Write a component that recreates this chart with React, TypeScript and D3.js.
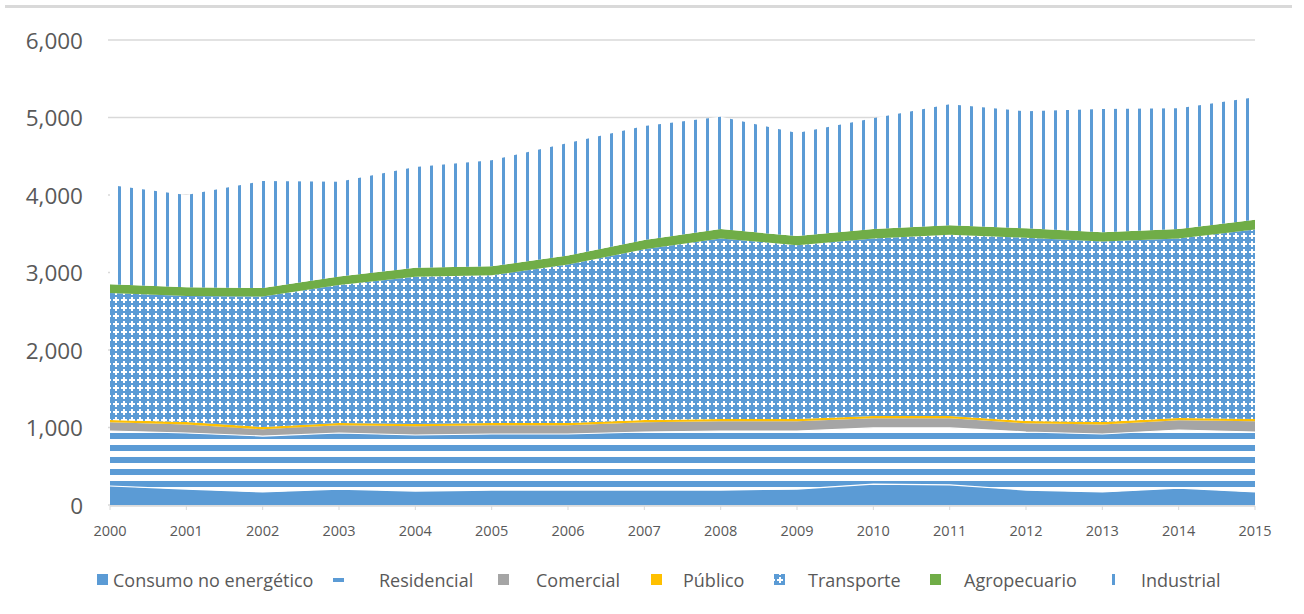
import React from "react";
import * as d3 from "d3";

const years = [2000, 2001, 2002, 2003, 2004, 2005, 2006, 2007, 2008, 2009, 2010, 2011, 2012, 2013, 2014, 2015];
const consumoNoEnergetico = [245, 206, 168, 206, 180, 193, 193, 193, 193, 206, 270, 260, 193, 168, 219, 168];
const residencial = [710, 723, 722, 723, 723, 723, 723, 749, 762, 749, 724, 734, 749, 748, 749, 774];
const comercial = [112, 111, 86, 99, 112, 112, 112, 125, 125, 125, 124, 124, 112, 124, 125, 138];
const publico = [30, 30, 30, 30, 30, 30, 30, 30, 30, 30, 30, 30, 30, 30, 30, 30];
const transporte = [1638, 1628, 1684, 1780, 1900, 1907, 2044, 2203, 2330, 2242, 2292, 2340, 2364, 2330, 2315, 2445];
const agropecuario = [115, 112, 110, 112, 115, 115, 118, 120, 120, 118, 120, 122, 122, 120, 122, 125];
const industrial = [1280, 1190, 1380, 1220, 1300, 1370, 1450, 1470, 1450, 1330, 1430, 1560, 1510, 1590, 1560, 1580];
const yTicks = [0, 1000, 2000, 3000, 4000, 5000, 6000];
const seriesNames = ["Consumo no energético", "Residencial", "Comercial", "Público", "Transporte", "Agropecuario", "Industrial"];

const BLUE = "#5B9BD5";
const keys = ["consumo", "residencial", "comercial", "publico", "transporte", "agropecuario", "industrial"];
const fills = [BLUE, "url(#pStripesH)", "#A5A5A5", "#FFC000", "url(#pCross)", "#70AD47", "url(#pStripesV)"];

export default function App() {
  const W = 1304, H = 614;
  const x = d3.scaleLinear().domain([2000, 2015]).range([110, 1255]);
  const y = d3.scaleLinear().domain([0, 6000]).range([505, 40]);
  const table = years.map((yr, i) => ({
    year: yr,
    consumo: consumoNoEnergetico[i],
    residencial: residencial[i],
    comercial: comercial[i],
    publico: publico[i],
    transporte: transporte[i],
    agropecuario: agropecuario[i],
    industrial: industrial[i],
  }));
  const stack = d3.stack<any>().keys(keys)(table);
  const area = d3.area<any>().x((d) => x(d.data.year)).y0((d) => y(d[0])).y1((d) => y(d[1]));
  const topLine = d3.line<any>().x((d) => x(d.data.year)).y((d) => y(d[1]));
  const font = "'Open Sans', 'Noto Sans', sans-serif";
  const textColor = "#595959";

  const legendItems = [
    { icon: 97, text: 113 },
    { icon: 333, text: 379 },
    { icon: 498, text: 536 },
    { icon: 651, text: 683 },
    { icon: 774, text: 808 },
    { icon: 930, text: 964 },
    { icon: 1112, text: 1141 },
  ];
  const ly = 580;

  return (
    <svg width={W} height={H} style={{ position: "absolute", left: 0, top: 0, background: "#fff" }}>
      <defs>
        <pattern id="pStripesH" patternUnits="userSpaceOnUse" x={0} y={1} width={12} height={12}>
          <rect x={0} y={0} width={12} height={12} fill="#fff" />
          <rect x={0} y={0} width={12} height={6} fill={BLUE} />
        </pattern>
        <pattern id="pStripesV" patternUnits="userSpaceOnUse" x={118} y={0} width={12} height={12}>
          <rect x={0} y={0} width={12} height={12} fill="#fff" />
          <rect x={0} y={0} width={3} height={12} fill={BLUE} />
        </pattern>
        <pattern id="pCross" patternUnits="userSpaceOnUse" x={0} y={0} width={8} height={8}>
          <rect x={0} y={0} width={8} height={8} fill={BLUE} />
          <rect x={3} y={1} width={2} height={6} fill="#fff" />
          <rect x={1} y={3} width={6} height={2} fill="#fff" />
        </pattern>
      </defs>

      {/* top border */}
      <line x1={5} x2={1292} y1={6.5} y2={6.5} stroke="#D9D9D9" strokeWidth={3} />

      {/* gridlines */}
      {yTicks.map((t) => (
        <line key={t} x1={108} x2={1255} y1={y(t)} y2={y(t)} stroke="#D9D9D9" strokeWidth={1.5} />
      ))}

      {/* areas */}
      {stack.map((s, i) => (
        <path key={keys[i]} d={area(s) || ""} fill={fills[i]} />
      ))}
      {/* white separators */}
      <path d={topLine(stack[0]) || ""} fill="none" stroke="#fff" strokeWidth={1.2} />
      <path d={topLine(stack[1]) || ""} fill="none" stroke="#fff" strokeWidth={1.2} />

      {/* x axis */}
      <line x1={110} x2={1255} y1={506} y2={506} stroke="#D9D9D9" strokeWidth={1.5} />
      {years.map((yr) => (
        <g key={yr}>
          <line x1={x(yr)} x2={x(yr)} y1={506} y2={510} stroke="#D9D9D9" strokeWidth={1} />
          <text x={x(yr)} y={530} textAnchor="middle" dominantBaseline="central" fontFamily={font} fontSize={14.5} fill={textColor}>
            {yr}
          </text>
        </g>
      ))}

      {/* y labels */}
      {yTicks.map((t) => (
        <text key={t} x={83} y={y(t)} textAnchor="end" dominantBaseline="central" fontFamily={font} fontSize={22.5} fill={textColor}>
          {d3.format(",")(t)}
        </text>
      ))}

      {/* legend */}
      {legendItems.map((it, i) => (
        <g key={i}>
          {i === 0 && <rect x={it.icon} y={ly - 6} width={11} height={11} fill={BLUE} />}
          {i === 1 && <rect x={it.icon} y={ly - 2} width={11} height={4} fill={BLUE} />}
          {i === 2 && <rect x={it.icon} y={ly - 6} width={11} height={11} fill="#A5A5A5" />}
          {i === 3 && <rect x={it.icon} y={ly - 6} width={11} height={11} fill="#FFC000" />}
          {i === 4 && <rect x={it.icon} y={ly - 6} width={11} height={11} fill="url(#pCross)" />}
          {i === 5 && <rect x={it.icon} y={ly - 6} width={11} height={11} fill="#70AD47" />}
          {i === 6 && <rect x={it.icon} y={ly - 6} width={3} height={11} fill={BLUE} />}
          <text x={it.text} y={ly} dominantBaseline="central" fontFamily={font} fontSize={18} fill={textColor}>
            {seriesNames[i]}
          </text>
        </g>
      ))}
    </svg>
  );
}
